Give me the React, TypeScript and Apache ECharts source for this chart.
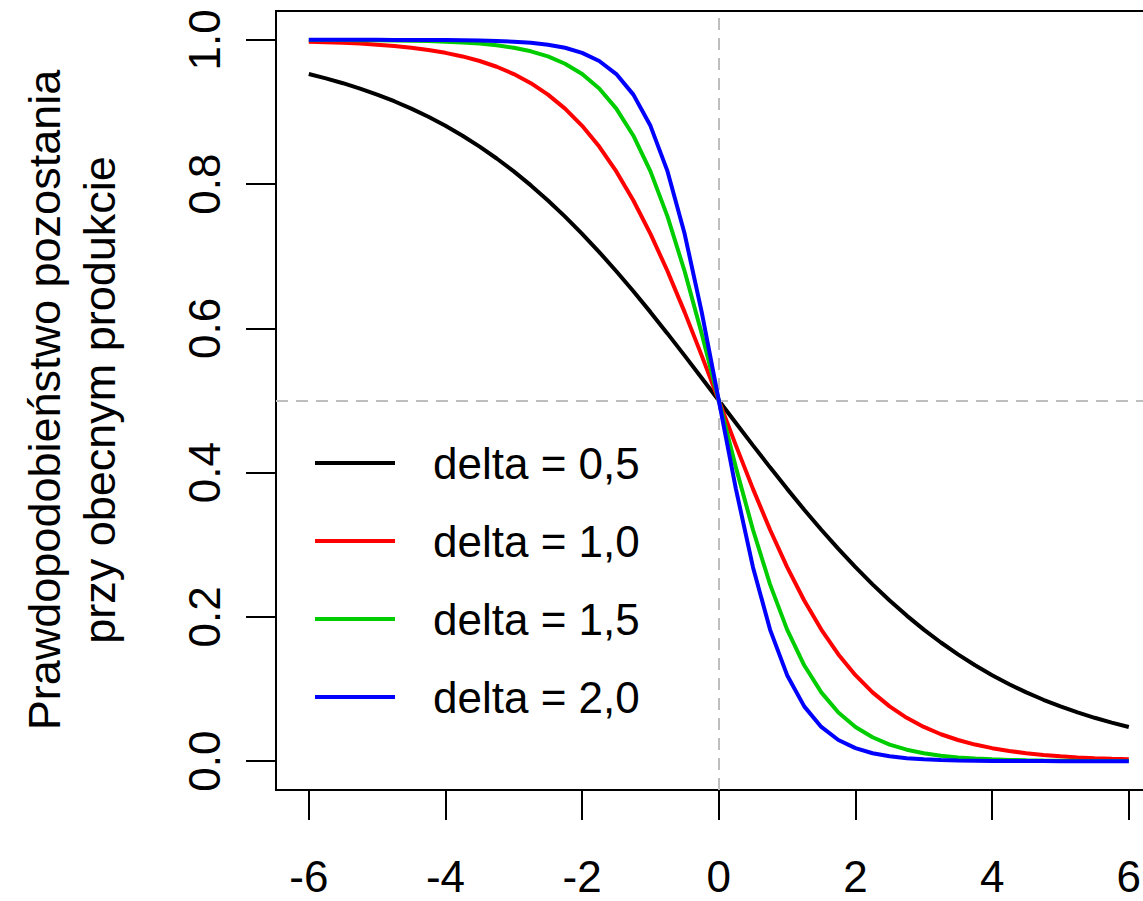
import React, { useEffect, useRef } from "react";
import * as echarts from "echarts";

const xValues = [
  -6, -5.75, -5.5, -5.25, -5, -4.75, -4.5, -4.25, -4, -3.75, -3.5, -3.25, -3, -2.75, -2.5, -2.25, -2, -1.75, -1.5, -1.25, -1, -0.75, -0.5, -0.25,
  0, 0.25, 0.5, 0.75, 1, 1.25, 1.5, 1.75, 2, 2.25, 2.5, 2.75, 3, 3.25, 3.5, 3.75, 4, 4.25, 4.5, 4.75, 5, 5.25, 5.5, 5.75, 6,
];

const delta05 = [
  0.9526, 0.9466, 0.9399, 0.9325, 0.9241, 0.9149, 0.9047, 0.8933, 0.8808, 0.8671, 0.852, 0.8355, 0.8176, 0.7982, 0.7773, 0.7549, 0.7311, 0.7058, 0.6792, 0.6514, 0.6225, 0.5927, 0.5622, 0.5312,
  0.5, 0.4688, 0.4378, 0.4073, 0.3775, 0.3486, 0.3208, 0.2942, 0.2689, 0.2451, 0.2227, 0.2018, 0.1824, 0.1645, 0.148, 0.1329, 0.1192, 0.1067, 0.0953, 0.0851, 0.0759, 0.0675, 0.0601, 0.0534, 0.0474,
];
const delta10 = [
  0.9975, 0.9968, 0.9959, 0.9948, 0.9933, 0.9914, 0.989, 0.9859, 0.982, 0.977, 0.9707, 0.9627, 0.9526, 0.9399, 0.9241, 0.9047, 0.8808, 0.852, 0.8176, 0.7773, 0.7311, 0.6792, 0.6225, 0.5622,
  0.5, 0.4378, 0.3775, 0.3208, 0.2689, 0.2227, 0.1824, 0.148, 0.1192, 0.0953, 0.0759, 0.0601, 0.0474, 0.0373, 0.0293, 0.023, 0.018, 0.0141, 0.011, 0.0086, 0.0067, 0.0052, 0.0041, 0.0032, 0.0025,
];
const delta15 = [
  0.9999, 0.9998, 0.9997, 0.9996, 0.9994, 0.9992, 0.9988, 0.9983, 0.9975, 0.9964, 0.9948, 0.9924, 0.989, 0.9841, 0.977, 0.9669, 0.9526, 0.9325, 0.9047, 0.8671, 0.8176, 0.7549, 0.6792, 0.5927,
  0.5, 0.4073, 0.3208, 0.2451, 0.1824, 0.1329, 0.0953, 0.0675, 0.0474, 0.0331, 0.023, 0.0159, 0.011, 0.0076, 0.0052, 0.0036, 0.0025, 0.0017, 0.0012, 0.0008, 0.0006, 0.0004, 0.0003, 0.0002, 0.0001,
];
const delta20 = [
  1.0, 1.0, 1.0, 1.0, 1.0, 0.9999, 0.9999, 0.9998, 0.9997, 0.9994, 0.9991, 0.9985, 0.9975, 0.9959, 0.9933, 0.989, 0.982, 0.9707, 0.9526, 0.9241, 0.8808, 0.8176, 0.7311, 0.6225,
  0.5, 0.3775, 0.2689, 0.1824, 0.1192, 0.0759, 0.0474, 0.0293, 0.018, 0.011, 0.0067, 0.0041, 0.0025, 0.0015, 0.0009, 0.0006, 0.0003, 0.0002, 0.0001, 0.0001, 0.0, 0.0, 0.0, 0.0, 0.0,
];

const seriesNames = ["delta = 0,5", "delta = 1,0", "delta = 1,5", "delta = 2,0"];
const seriesData = [delta05, delta10, delta15, delta20];
const seriesColors = ["#000000", "#FF0000", "#00CD00", "#0000FF"];

const xTicks = [-6, -4, -2, 0, 2, 4, 6];
const yTicks = [0, 0.2, 0.4, 0.6, 0.8, 1.0];

const yTitle = "Prawdopodobieństwo pozostania\nprzy obecnym produkcie";

const FONT = "'Liberation Sans', Arial, sans-serif";

export default function App() {
  const ref = useRef<HTMLDivElement>(null);
  useEffect(() => {
    if (!ref.current) return;
    const chart = echarts.init(ref.current, undefined, { renderer: "svg" });
    const lines = seriesNames.map((name, i) => ({
      name,
      type: "line",
      data: xValues.map((x, j) => [x, seriesData[i][j]]),
      symbol: "none",
      showSymbol: false,
      smooth: false,
      lineStyle: { color: seriesColors[i], width: 4 },
      itemStyle: { color: seriesColors[i] },
      z: 3 + i,
    }));
    chart.setOption({
      animation: false,
      backgroundColor: "#ffffff",
      grid: {
        left: 276,
        top: 11,
        width: 885.6,
        height: 779,
        show: true,
        borderColor: "#000",
        borderWidth: 2,
        backgroundColor: "transparent",
        containLabel: false,
        outerBoundsMode: "none",
      },
      xAxis: {
        type: "value",
        min: -6.48,
        max: 6.48,
        splitLine: { show: false },
        axisLine: { show: false, onZero: false },
        axisTick: {
          show: true,
          customValues: xTicks,
          length: 30,
          lineStyle: { color: "#000", width: 2 },
        },
        axisLabel: {
          customValues: xTicks,
          margin: 64,
          fontSize: 44,
          fontFamily: FONT,
          color: "#000",
        },
      },
      yAxis: {
        type: "value",
        min: -0.04,
        max: 1.04,
        splitLine: { show: false },
        axisLine: { show: false, onZero: false },
        axisTick: {
          show: true,
          customValues: yTicks,
          length: 30,
          lineStyle: { color: "#000", width: 2 },
        },
        axisLabel: {
          customValues: yTicks,
          rotate: 90,
          margin: 50,
          fontSize: 44,
          fontFamily: FONT,
          color: "#000",
          formatter: (v: number) => v.toFixed(1),
        },
      },
      legend: {
        data: seriesNames,
        orient: "vertical",
        left: 315,
        top: 438,
        padding: 0,
        icon: "rect",
        itemWidth: 80,
        itemHeight: 4,
        itemGap: 28,
        textStyle: {
          fontSize: 44,
          lineHeight: 50,
          fontFamily: FONT,
          color: "#000",
          padding: [0, 0, 0, 33],
        },
      },
      graphic: [
        {
          type: "text",
          x: 72,
          y: 400,
          rotation: Math.PI / 2,
          style: {
            text: yTitle,
            fontSize: 45,
            lineHeight: 55,
            fontFamily: FONT,
            fill: "#000",
            textAlign: "center",
            textVerticalAlign: "middle",
          },
        },
      ],
      series: [
        {
          name: "guides",
          type: "line",
          data: [],
          z: 1,
          markLine: {
            silent: true,
            symbol: ["none", "none"],
            label: { show: false },
            lineStyle: { color: "#BEBEBE", type: [12, 8], width: 2 },
            data: [{ xAxis: 0 }, { yAxis: 0.5 }],
          },
        },
        ...lines,
      ],
    });
    return () => chart.dispose();
  }, []);
  return (
    <div
      ref={ref}
      style={{ position: "fixed", left: 0, top: 0, width: 1143, height: 901, background: "#fff" }}
    />
  );
}
